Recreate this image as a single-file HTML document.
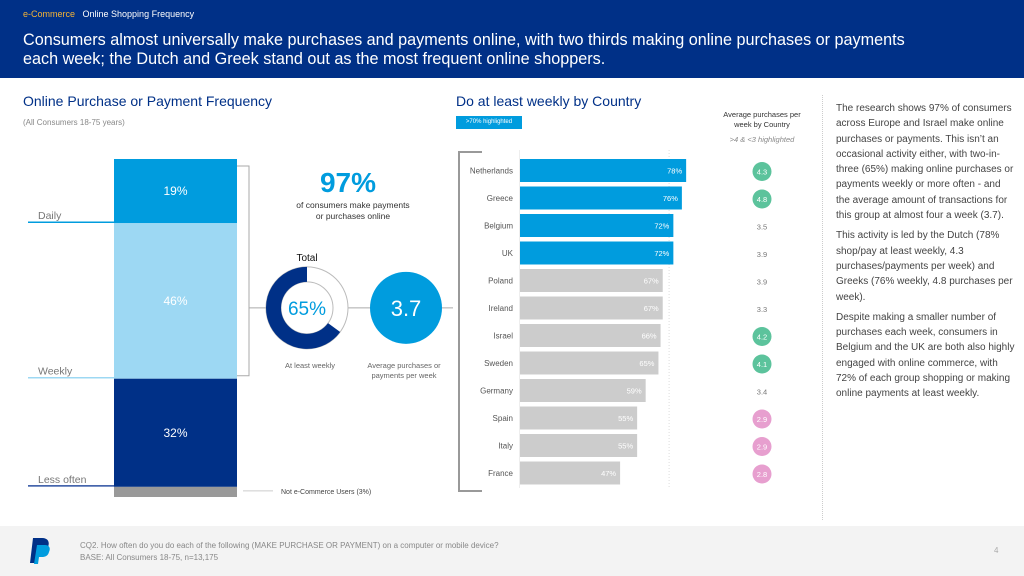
<!DOCTYPE html>
<html><head><meta charset="utf-8"><style>
*{margin:0;padding:0;box-sizing:border-box}
body{width:1024px;height:576px;overflow:hidden;background:#fff;font-family:"Liberation Sans",sans-serif;position:relative}
.a{position:absolute}
</style></head><body>
<div class="a" style="left:0;top:0;width:1024px;height:78px;background:#003087"></div>
<div class="a" style="left:23px;top:9px;font-size:9px;color:#fff"><span style="color:#f5b335">e-Commerce</span>&nbsp;&nbsp;&nbsp;Online Shopping Frequency</div>
<div class="a" style="left:23px;top:31px;font-size:16.2px;line-height:19px;color:#fff;width:900px">Consumers almost universally make purchases and payments online, with two thirds making online purchases or payments each week; the Dutch and Greek stand out as the most frequent online shoppers.</div>
<div class="a" style="left:23px;top:93px;font-size:14px;color:#003087">Online Purchase or Payment Frequency</div>
<div class="a" style="left:23px;top:118px;font-size:8px;color:#888">(All Consumers 18-75 years)</div>
<div class="a" style="left:456px;top:93px;font-size:14px;color:#003087">Do at least weekly by Country</div>
<div class="a" style="left:456px;top:116px;width:66px;height:13px;background:#009cde;color:#fff;font-size:6px;line-height:13px;text-align:center">&gt;70% highlighted</div>
<div class="a" style="left:700px;top:110px;width:124px;font-size:7.5px;line-height:10px;text-align:center;color:#333">Average purchases per<br>week by Country</div>
<div class="a" style="left:700px;top:135px;width:124px;font-size:7.5px;text-align:center;color:#888;font-style:italic">&gt;4 &amp; &lt;3 highlighted</div>
<div class="a" style="left:822px;top:95px;height:425px;border-left:1px dotted #ccc"></div>
<div class="a" style="left:836px;top:101px;width:180px;font-size:10px;line-height:15.3px;color:#444">
<p style="margin-bottom:5px">The research shows 97% of consumers across Europe and Israel make online purchases or payments. This isn’t an occasional activity either, with two-in-three (65%) making online purchases or payments weekly or more often - and the average amount of transactions for this group at almost four a week (3.7).</p>
<p style="margin-bottom:5px">This activity is led by the Dutch (78% shop/pay at least weekly, 4.3 purchases/payments per week) and Greeks (76% weekly, 4.8 purchases per week).</p>
<p>Despite making a smaller number of purchases each week, consumers in Belgium and the UK are both also highly engaged with online commerce, with 72% of each group shopping or making online payments at least weekly.</p></div>
<svg class="a" style="left:0;top:0" width="1024" height="576" id="chart"></svg>
<div class="a" style="left:0;top:526px;width:1024px;height:50px;background:#f3f3f3"></div>
<svg class="a" style="left:28px;top:536px" width="26" height="30"><path d="M5 2h9c6 0 8 4 6 9-1 4-4 6-8 6H9l-2 10H2z" fill="#003087"/><path d="M9 9h8c4 0 6 3 4 7-1 4-4 5-7 5h-3l-1 7H6z" fill="#009cde"/></svg>
<div class="a" style="left:80px;top:540px;font-size:8px;line-height:12px;color:#888">CQ2. How often do you do each of the following (MAKE PURCHASE OR PAYMENT) on a computer or mobile device?<br>BASE: All Consumers 18-75, n=13,175</div>
<div class="a" style="left:994px;top:546px;font-size:8px;color:#aaa">4</div>
<script>
const freqLabels=["Daily","Weekly","Less often"];
const freqValues=[19,46,32];
const notUsers=3;
const atLeastWeekly=65;
const avgPurchases=3.7;
const countries=["Netherlands","Greece","Belgium","UK","Poland","Ireland","Israel","Sweden","Germany","Spain","Italy","France"];
const weeklyPct=[78,76,72,72,67,67,66,65,59,55,55,47];
const avgPerWeek=[4.3,4.8,3.5,3.9,3.9,3.3,4.2,4.1,3.4,2.9,2.9,2.8];
const NS="http://www.w3.org/2000/svg";
const svg=document.getElementById('chart');
function mk(t,a,txt){const e=document.createElementNS(NS,t);for(const k in a)e.setAttribute(k,a[k]);if(txt!==undefined)e.textContent=txt;svg.appendChild(e);return e;}
const sTop=159,sScale=3.38,sx=114,sw=123;
const sCols=["#009cde","#9dd8f3","#003087"],lineCols=["#009cde","#9dd8f3","#2b4fa0"];
let y=sTop;
freqValues.forEach((v,i)=>{const h=v*sScale;
 const r=mk('rect',{x:sx,y:y,width:sw,height:h,fill:sCols[i]});
 
 
 const t=mk('text',{x:sx+sw/2,y:y+h/2+4,fill:'#fff','font-size':12,'text-anchor':'middle'},v+'%');
 
 
 const l=mk('line',{x1:28,x2:sx,y1:y+h-1,y2:y+h-1,stroke:lineCols[i],'stroke-width':1.5});
 
 
 const lt=mk('text',{x:38,y:y+h-4,fill:'#777','font-size':10.5},freqLabels[i]);
 
 
 y+=h;});
const g=mk('rect',{x:sx,y:y,width:sw,height:notUsers*sScale,fill:'#999'});


mk('line',{x1:243,x2:273,y1:y+4,y2:y+4,stroke:'#ccc'});
mk('text',{x:281,y:y+7,fill:'#444','font-size':7},'Not e-Commerce Users ('+notUsers+'%)');
const bTop=sTop+7,bBot=sTop+(freqValues[0]+freqValues[1])*sScale-3;
mk('path',{d:`M237 ${bTop}H249V${bBot}H237`,fill:'none',stroke:'#aaa','stroke-width':1});
const cy=(bTop+bBot)/2+37;
mk('line',{x1:249,x2:453,y1:cy,y2:cy,stroke:'#aaa'});
mk('text',{x:348,y:192,fill:'#009cde','font-size':28,'font-weight':'bold','text-anchor':'middle'},'97%');
mk('text',{x:353,y:208,fill:'#333','font-size':8.5,'text-anchor':'middle'},'of consumers make payments');
mk('text',{x:353,y:219,fill:'#333','font-size':8.5,'text-anchor':'middle'},'or purchases online');
const dx=307,R=33.5;
mk('circle',{cx:dx,cy:cy,r:41,fill:'#fff',stroke:'#bbb'});
mk('circle',{cx:dx,cy:cy,r:26,fill:'#fff',stroke:'#bbb'});
const ang=atLeastWeekly/100*2*Math.PI;
const arc=mk('path',{d:`M${dx} ${cy-R} A${R} ${R} 0 ${atLeastWeekly>50?1:0} 0 ${dx+R*Math.sin(-ang)} ${cy-R*Math.cos(-ang)}`,fill:'none',stroke:'#003087','stroke-width':15});


mk('text',{x:dx,y:cy+7,fill:'#009cde','font-size':19,'text-anchor':'middle'},atLeastWeekly+'%');
mk('text',{x:dx,y:261,fill:'#111','font-size':10,'text-anchor':'middle'},'Total');
mk('text',{x:310,y:368,fill:'#666','font-size':7.5,'text-anchor':'middle'},'At least weekly');
const bc=mk('circle',{cx:406,cy:cy,r:36,fill:'#009cde'});


mk('text',{x:406,y:cy+8,fill:'#fff','font-size':22,'text-anchor':'middle'},avgPurchases.toFixed(1));
mk('text',{x:404,y:368,fill:'#666','font-size':7.5,'text-anchor':'middle'},'Average purchases or');
mk('text',{x:404,y:378,fill:'#666','font-size':7.5,'text-anchor':'middle'},'payments  per week');
const bx=520,px=2.13,rowTop=159,rowH=27.5,bh=23;
const xS=v=>bx+v*px;
mk('path',{d:'M482 152H459V491H482',fill:'none',stroke:'#999','stroke-width':2});
mk('line',{x1:xS(70),x2:xS(70),y1:150,y2:488,stroke:'#ddd','stroke-dasharray':'1 2'});
mk('line',{x1:bx-0.5,x2:bx-0.5,y1:150,y2:488,stroke:'#eee'});
countries.forEach((c,i)=>{const yy=rowTop+i*rowH;const v=weeklyPct[i];
 const r=mk('rect',{x:bx,y:yy,width:xS(v)-bx,height:bh,fill:v>=70?'#009cde':'#cccccc'});
 
 
 mk('text',{x:xS(v)-4,y:yy+bh/2+3,fill:'#fff','font-size':7.5,'text-anchor':'end'},v+'%');
 mk('text',{x:bx-7,y:yy+bh/2+3,fill:'#555','font-size':8,'text-anchor':'end'},c);
 const a=avgPerWeek[i];const cx=762,ccy=yy+bh/2+1;
 if(a>4||a<3){const ci=mk('circle',{cx:cx,cy:ccy,r:9.5,fill:a>4?'#5cc39c':'#e79fcf'});
  
  
  mk('text',{x:cx,y:ccy+3,fill:'#fff','font-size':7.5,'text-anchor':'middle'},a.toFixed(1));}
 else mk('text',{x:cx,y:ccy+3,fill:'#777','font-size':7.5,'text-anchor':'middle'},a.toFixed(1));
});
</script>
</body></html>
